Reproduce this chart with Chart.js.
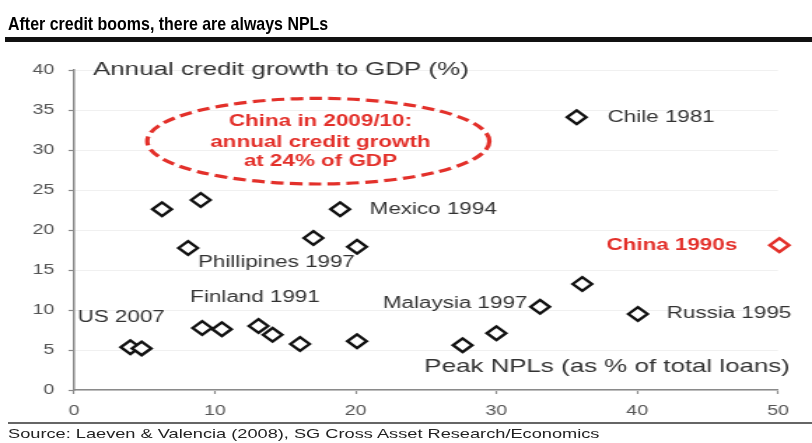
<!DOCTYPE html>
<html lang="en">
<head>
    <meta charset="UTF-8">
    <title>After credit booms, there are always NPLs</title>
    <script src="https://cdn.jsdelivr.net/npm/chart.js"></script>
    <style>
        body { margin: 0; background: #fff; width: 812px; height: 443px; overflow: hidden; position: relative; font-family: 'Liberation Sans', Arial, sans-serif; }
        #title { position: absolute; left: 8px; top: 13px; font-size: 19px; line-height: 22px; font-weight: bold; color: #000; white-space: nowrap; transform: scaleX(0.84); transform-origin: 0 0; }
        #rule { position: absolute; left: 5px; right: 0; top: 37px; height: 5px; background: #111; }
        #srcRule { position: absolute; left: 8px; right: 0; top: 422px; height: 2px; background: #666; }
        #source { position: absolute; left: 8px; top: 426px; font-size: 13px; line-height: 15px; color: #222; white-space: nowrap; transform: scaleX(1.4); transform-origin: 0 0; }
        /* the original picture is stretched sideways, so the chart is too */
        #wrap { position: absolute; left: 0; top: 0; width: 580px; height: 443px; transform: scaleX(1.4); transform-origin: 0 0; }
    </style>
</head>
<body>
    <div id="wrap"><canvas id="myChart"></canvas></div>
    <div id="title">After credit booms, there are always NPLs</div>
    <div id="rule"></div>
    <div id="srcRule"></div>
    <div id="source">Source: Laeven &amp; Valencia (2008), SG Cross Asset Research/Economics</div>

    <script>
        // Peak NPLs (% of total loans) and annual credit growth to GDP (%)
        const peakNpl      = [6.25, 9.0, 18.9, 17.0, 8.1, 20.1, 4.0, 4.8, 9.1, 10.5, 13.1, 14.1, 16.05, 20.1, 35.7, 36.1, 33.1, 40.05, 27.6, 30.0];
        const creditGrowth = [22.6, 23.75, 22.6, 19.0, 17.75, 17.9, 5.35, 5.2, 7.75, 7.6, 8.0, 6.9, 5.75, 6.1, 34.1, 13.25, 10.4, 9.5, 5.6, 7.1];

        // China 1990s highlighted in red
        const chinaNpl    = [50.1];
        const chinaGrowth = [18.1];

        const xTicks = [0, 10, 20, 30, 40, 50];
        const yTicks = [0, 5, 10, 15, 20, 25, 30, 35, 40];

        const red = '#e3302a';
        const ink = '#333333';

        // text annotations, anchored in data units
        const notes = [
            { text: 'Annual credit growth to GDP (%)', x: 1.35, y: 40, align: 'left', size: 18.5 },
            { text: 'Chile 1981', x: 37.9, y: 34.1, align: 'left', size: 16 },
            { text: 'Mexico 1994', x: 21.0, y: 22.6, align: 'left', size: 16 },
            { text: 'China 1990s', x: 47.1, y: 18.1, align: 'right', size: 16, bold: true, color: red },
            { text: 'Phillipines 1997', x: 8.8, y: 15.9, align: 'left', size: 16 },
            { text: 'Finland 1991', x: 8.25, y: 11.5, align: 'left', size: 16 },
            { text: 'Malaysia 1997', x: 32.2, y: 10.8, align: 'right', size: 16 },
            { text: 'Russia 1995', x: 42.1, y: 9.6, align: 'left', size: 16 },
            { text: 'US 2007', x: 0.25, y: 9.0, align: 'left', size: 16 },
            { text: 'Peak NPLs (as % of total loans)', x: 50.85, y: 2.9, align: 'right', size: 18.5 }
        ];
        const bubbleLines = ['China in 2009/10:', 'annual credit growth', 'at 24% of GDP'];

        const notesPlugin = {
            id: 'notes',
            afterDatasetsDraw(chart) {
                const { ctx, scales: { x, y } } = chart;
                ctx.save();
                ctx.textBaseline = 'middle';
                notes.forEach(n => {
                    ctx.font = (n.bold ? 'bold ' : '') + n.size + "px 'Liberation Sans', Arial, sans-serif";
                    ctx.fillStyle = n.color || ink;
                    ctx.textAlign = n.align;
                    ctx.fillText(n.text, x.getPixelForValue(n.x), y.getPixelForValue(n.y));
                });

                // dashed red ellipse with the China 2009/10 note
                const cx = x.getPixelForValue(17.35);
                const cy = y.getPixelForValue(31.1);
                const rx = x.getPixelForValue(17.35 + 12.15) - cx;
                const ry = cy - y.getPixelForValue(31.1 + 5.35);
                ctx.strokeStyle = red;
                ctx.lineWidth = 3.2;
                ctx.setLineDash([9, 4.5]);
                ctx.beginPath();
                ctx.ellipse(cx, cy, rx, ry, 0, 0, Math.PI * 2);
                ctx.stroke();
                ctx.setLineDash([]);

                ctx.font = "bold 16px 'Liberation Sans', Arial, sans-serif";
                ctx.fillStyle = red;
                ctx.textAlign = 'center';
                const tx = x.getPixelForValue(17.5);
                [33.5, 30.95, 28.5].forEach((v, i) => {
                    ctx.fillText(bubbleLines[i], tx, y.getPixelForValue(v));
                });
                ctx.restore();
            }
        };

        const tickFont = { family: "'Liberation Sans', Arial, sans-serif", size: 14 };

        const config = {
            type: 'scatter',
            data: {
                datasets: [{
                    label: 'Credit booms',
                    data: peakNpl.map((v, i) => ({ x: v, y: creditGrowth[i] })),
                    pointStyle: 'rectRot',
                    pointRadius: 6.8,
                    pointHoverRadius: 6.8,
                    borderColor: '#111',
                    backgroundColor: '#fff',
                    borderWidth: 2.4,
                    clip: false
                }, {
                    label: 'China 1990s',
                    data: chinaNpl.map((v, i) => ({ x: v, y: chinaGrowth[i] })),
                    pointStyle: 'rectRot',
                    pointRadius: 6.8,
                    pointHoverRadius: 6.8,
                    borderColor: red,
                    backgroundColor: '#fff',
                    borderWidth: 2.6,
                    clip: false
                }]
            },
            options: {
                responsive: true,
                maintainAspectRatio: false,
                animation: false,
                layout: { padding: { top: 70, right: 24.3, bottom: 23, left: 0 } },
                plugins: {
                    legend: { display: false },
                    tooltip: { enabled: false }
                },
                scales: {
                    x: {
                        type: 'linear',
                        min: 0,
                        max: 50,
                        afterBuildTicks: s => { s.ticks = xTicks.map(v => ({ value: v })); },
                        afterFit: s => { s.height = 30; },
                        border: { color: '#8a8a8a', width: 1.5 },
                        grid: { drawOnChartArea: false, tickLength: 4, tickColor: '#8a8a8a', tickWidth: 1.2 },
                        ticks: { font: tickFont, color: '#555', padding: 9, maxRotation: 0 }
                    },
                    y: {
                        type: 'linear',
                        min: 0,
                        max: 40,
                        afterBuildTicks: s => { s.ticks = yTicks.map(v => ({ value: v })); },
                        afterFit: s => { s.width = 52.9; },
                        border: { color: '#8a8a8a', width: 1.5 },
                        grid: { color: '#f0f0f0', lineWidth: 1, tickLength: 4, tickColor: '#8a8a8a', tickWidth: 1.2 },
                        ticks: { font: tickFont, color: '#555', padding: 10 }
                    }
                }
            },
            plugins: [notesPlugin]
        };

        new Chart(document.getElementById('myChart'), config);
    </script>
</body>
</html>
